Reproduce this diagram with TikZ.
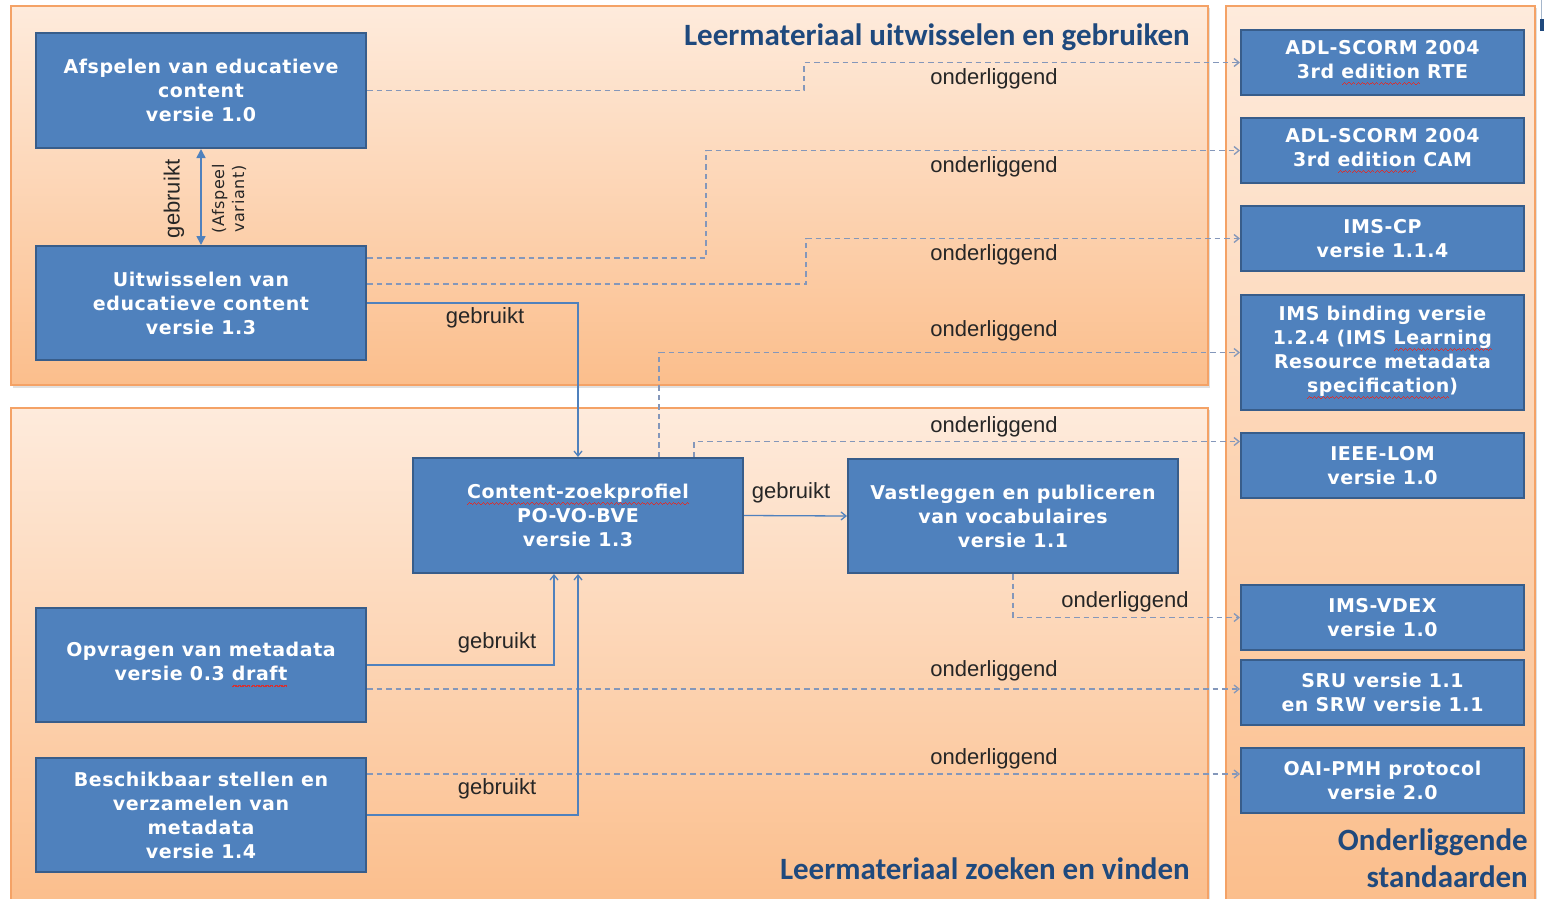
\documentclass[tikz,border=0pt]{standalone}
\usepackage{fontspec}
\usetikzlibrary{arrows.meta}
\newfontfamily\boxfont[LetterSpace=3]{DejaVu Sans}
\newfontfamily\smallfont[LetterSpace=4]{DejaVu Sans}
\newfontfamily\lblfont{Liberation Sans}
\newfontfamily\titlefont{Carlito}
\definecolor{boxblue}{HTML}{4F81BD}
\definecolor{boxborder}{HTML}{385D8A}
\definecolor{dashcol}{HTML}{8497BA}
\definecolor{linecol}{HTML}{4F81BD}
\definecolor{lblcol}{HTML}{262626}
\definecolor{ttlcol}{HTML}{1F497D}
\definecolor{paneltop}{HTML}{FEEBDC}
\definecolor{panelbot}{HTML}{FBBE8C}
\definecolor{panelborder}{HTML}{F4A266}
\definecolor{spellred}{HTML}{D83030}
\newcommand\wavepiece{\hbox{\rule[-6.5pt]{1.1pt}{1.1pt}\rule[-5.6pt]{1.1pt}{1.1pt}\rule[-4.8pt]{1.1pt}{1.1pt}\rule[-5.6pt]{1.1pt}{1.1pt}}}
\newcommand\spellerr[1]{\setbox0=\hbox{#1}\rlap{\hbox to \wd0{\color{spellred}\xleaders\wavepiece\hfill}}\box0\relax}
\tikzset{
  box/.style={draw=boxborder, line width=2pt, fill=boxblue, text=white,
    font=\boxfont\bfseries\fontsize{19}{24}\selectfont, align=center, inner sep=0pt},
  leftbox/.style={box, minimum width=330pt, minimum height=114pt},
  stdbox/.style={box, minimum width=283pt, minimum height=65pt},
  dsh/.style={draw=dashcol, line width=1.3pt, dash pattern=on 5.5pt off 4pt,
    -{Straight Barb[length=5pt,width=8pt]}},
  sol/.style={draw=linecol, line width=1.3pt, -{Straight Barb[length=5pt,width=8pt]}},
  dbl/.style={draw=linecol, line width=1.6pt,
    {Triangle[length=9pt,width=9pt]}-{Triangle[length=9pt,width=9pt]}},
  lbl/.style={font=\lblfont\fontsize{22}{26}\selectfont, text=lblcol, inner sep=0pt},
  smalllbl/.style={font=\smallfont\fontsize{16}{20}\selectfont, text=lblcol, inner sep=0pt, align=center},
  ttl/.style={font=\titlefont\bfseries\fontsize{31}{37}\selectfont, text=ttlcol, inner sep=0pt},
  panel/.style={draw=panelborder, line width=1.5pt, top color=paneltop, bottom color=panelbot},
}
\begin{document}
\begin{tikzpicture}[x=1pt,y=-1pt]
\useasboundingbox (0,0) rectangle (1544,899);
\fill[white] (0,0) rectangle (1544,899);
\begin{scope}
\clip (0,0) rectangle (1544,899);
% panel shadows
\fill[black!12] (13,8) rectangle (1210,388);
\fill[black!12] (13,410) rectangle (1210,905);
\fill[black!12] (1228,8) rectangle (1537,905);
% panels
\path[panel] (11,6) rectangle (1208,385);
\path[panel] (11,408) rectangle (1208,905);
\path[panel] (1226,6) rectangle (1535,905);
\end{scope}
\fill[ttlcol] (1540,19) rectangle (1544,31);
\fill[ttlcol!40] (1540.5,0) rectangle (1541.5,19);

% titles
\node[ttl, anchor=east] (t1) at (1190,37) {Leermateriaal uitwisselen en gebruiken};
\node[ttl, anchor=east] (t2) at (1190,869) {Leermateriaal zoeken en vinden};
\node[ttl, anchor=east, align=right] (t3) at (1528,858) {Onderliggende\\standaarden};

% left / middle boxes
\node[leftbox, minimum height=115pt] (afs) at (201,90.5) {Afspelen van educatieve\\content\\versie 1.0};
\node[leftbox] (uit) at (201,303) {Uitwisselen van\\educatieve content\\versie 1.3};
\node[leftbox, minimum height=115pt] (czp) at (578,515.5) {\spellerr{Content-zoekprofiel}\\PO-VO-BVE\\versie 1.3};
\node[leftbox] (voc) at (1013,516) {Vastleggen en publiceren\\van vocabulaires\\versie 1.1};
\node[leftbox] (opv) at (201,665) {Opvragen van metadata\\versie 0.3 \spellerr{draft}};
\node[leftbox] (bes) at (201,815) {Beschikbaar stellen en\\verzamelen van\\metadata\\versie 1.4};

% standards
\node[stdbox] (rte) at (1382.5,62.5) {ADL-SCORM 2004\\3rd \spellerr{edition} RTE};
\node[stdbox] (cam) at (1382.5,150.5) {ADL-SCORM 2004\\3rd \spellerr{edition} CAM};
\node[stdbox] (cp) at (1382.5,238.5) {IMS-CP\\versie 1.1.4};
\node[stdbox, minimum height=115pt] (bind) at (1382.5,352.5) {IMS binding versie\\1.2.4 (IMS \spellerr{Learning}\\Resource metadata\\\spellerr{specification})};
\node[stdbox] (lom) at (1382.5,465.5) {IEEE-LOM\\versie 1.0};
\node[stdbox] (vdex) at (1382.5,617.5) {IMS-VDEX\\versie 1.0};
\node[stdbox] (sru) at (1382.5,692.5) {SRU versie 1.1\\en SRW versie 1.1};
\node[stdbox] (oai) at (1382.5,780.5) {OAI-PMH protocol\\versie 2.0};

% dashed "onderliggend" connectors
\draw[dsh] (afs.east) -- ++(437,0) |- (rte.west);
\draw[dsh] ([yshift=45pt]uit.east) -- ++(339,0) |- (cam.west);
\draw[dsh] ([yshift=19pt]uit.east) -- ++(439,0) |- (cp.west);
\draw[dsh] ([xshift=81pt]czp.north) |- (bind.west);
\draw[dsh] ([xshift=116pt]czp.north) |- ([yshift=24pt]lom.west);
\draw[dsh] (voc.south) |- (vdex.west);
\coordinate (o7) at ([yshift=-24pt]opv.east);
\draw[dsh] (o7) -- (o7 -| sru.west);
\coordinate (b8) at ([yshift=41pt]bes.east);
\draw[dsh] (b8) -- (b8 -| oai.west);

% solid "gebruikt" connectors
\draw[dbl] (afs.south) -- (uit.north);
\draw[sol] (uit.east) -| (czp.north);
\draw[sol] (czp.east) -- (voc.west);
\draw[sol] (opv.east) -| ([xshift=-24pt]czp.south);
\draw[sol] (bes.east) -| (czp.south);

% labels
\node[lbl] (on1) at (994,79) {onderliggend};
\node[lbl] (on2) at (994,167) {onderliggend};
\node[lbl] (on3) at (994,255) {onderliggend};
\node[lbl] (on4) at (994,331) {onderliggend};
\node[lbl] (on5) at (994,427) {onderliggend};
\node[lbl] (on6) at (1125,602) {onderliggend};
\node[lbl] (on7) at (994,671) {onderliggend};
\node[lbl] (on8) at (994,759) {onderliggend};
\node[lbl] (g1) at (485,318) {gebruikt};
\node[lbl] (g2) at (791,493) {gebruikt};
\node[lbl] (g3) at (497,643) {gebruikt};
\node[lbl] (g4) at (497,789) {gebruikt};
\node[lbl, rotate=90] (g5) at (174,199) {gebruikt};
\node[smalllbl, rotate=90] (av) at (229,199) {(Afspeel\\variant)};
\end{tikzpicture}
\end{document}
